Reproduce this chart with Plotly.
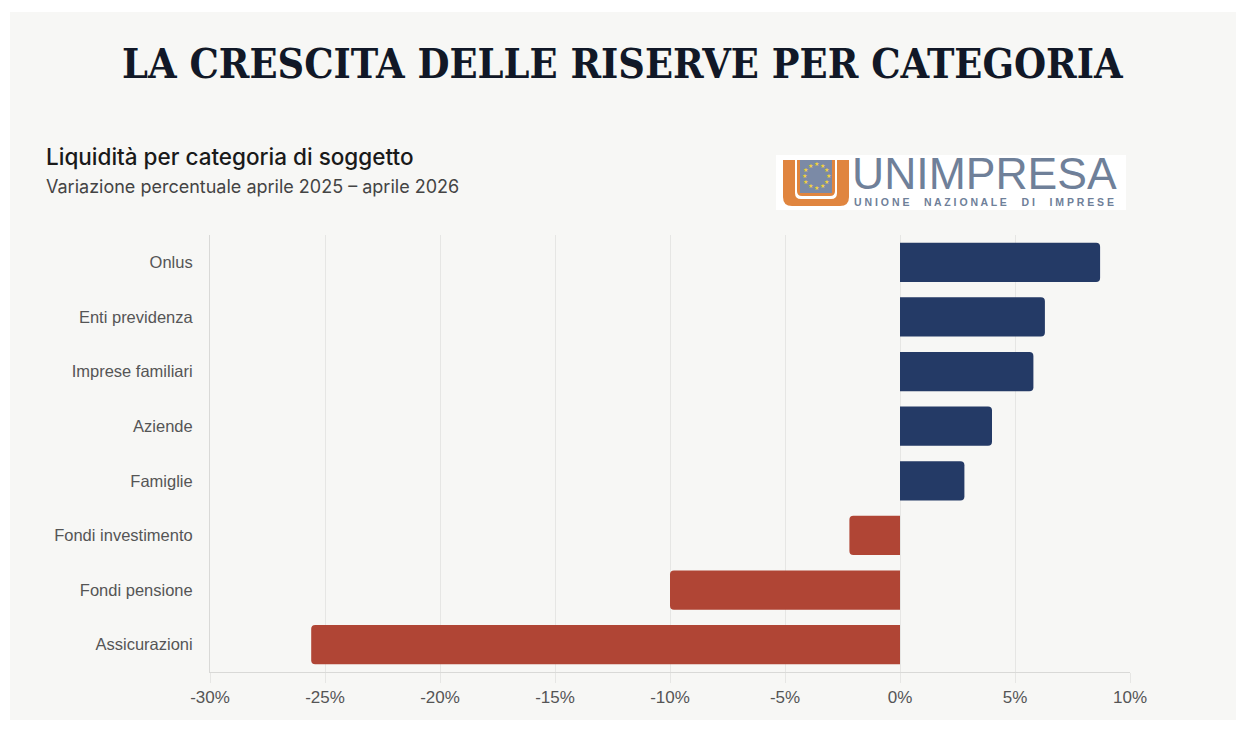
import math
import plotly.graph_objects as go

# dati (variazione % aprile 2025 - aprile 2026)
categorie = ["Onlus", "Enti previdenza", "Imprese familiari", "Aziende", "Famiglie",
             "Fondi investimento", "Fondi pensione", "Assicurazioni"]
variazione = [8.7, 6.3, 5.8, 4.0, 2.8, -2.2, -10.0, -25.6]
tick_vals = [-30, -25, -20, -15, -10, -5, 0, 5, 10]
tick_text = ["-30%", "-25%", "-20%", "-15%", "-10%", "-5%", "0%", "5%", "10%"]

BLU = "#243a66"
ROSSO = "#b04535"
FONDO = "#f7f7f5"

W, H = 1258, 746
OFF = 8                              # margine della pagina
L, R, T, B = 210, 1130, 235, 672     # area del grafico (pixel di riferimento)


def px(x):
    return (x - L) / (R - L)


def py(y):
    return (B - y) / (B - T)


colori = [BLU if v >= 0 else ROSSO for v in variazione]

fig = go.Figure(go.Bar(
    x=variazione,
    y=categorie,
    orientation="h",
    marker=dict(color=colori, cornerradius=4, line=dict(width=0)),
    width=0.72,
    hoverinfo="x+y",
))

shapes = [
    # sfondo grigio chiaro
    dict(type="rect", xref="paper", yref="paper", layer="below",
         x0=px(10), x1=px(1236), y0=py(720), y1=py(12),
         fillcolor=FONDO, line=dict(width=0)),
    # riquadro logo
    dict(type="rect", xref="paper", yref="paper",
         x0=px(776), x1=px(1126), y0=py(210), y1=py(155),
         fillcolor="white", line=dict(width=0)),
]


def upath(x0, y0, x1, y1, r):
    # U con angoli arrotondati in basso
    return (f"M {px(x0)},{py(y0)} L {px(x0)},{py(y1 - r)} "
            f"Q {px(x0)},{py(y1)} {px(x0 + r)},{py(y1)} "
            f"L {px(x1 - r)},{py(y1)} Q {px(x1)},{py(y1)} {px(x1)},{py(y1 - r)} "
            f"L {px(x1)},{py(y0)} Z")


# logo: U arancione + quadrato con stelle
shapes.append(dict(type="path", xref="paper", yref="paper", path=upath(783, 160, 849, 206, 9),
                   fillcolor="#e0853f", line=dict(width=0)))
shapes.append(dict(type="path", xref="paper", yref="paper", path=upath(795, 160, 837, 199, 6),
                   fillcolor="white", line=dict(width=0)))
shapes.append(dict(type="path", xref="paper", yref="paper", path=upath(797, 160, 835, 196, 5),
                   fillcolor="#e0853f", line=dict(width=0)))
shapes.append(dict(type="rect", xref="paper", yref="paper",
                   x0=px(800), x1=px(832), y0=py(193), y1=py(160),
                   fillcolor="#7b8aa6", line=dict(width=0)))

annotations = [
    dict(text="<b>LA CRESCITA DELLE RISERVE PER CATEGORIA</b>", xref="paper", yref="paper",
         x=px(623), y=py(64), xanchor="center", yanchor="middle", showarrow=False,
         font=dict(family="DejaVu Serif Condensed, Liberation Serif, serif", size=41, color="#111827")),
    dict(text="Liquidità per categoria di soggetto", xref="paper", yref="paper",
         x=px(44), y=py(157), xanchor="left", yanchor="middle", showarrow=False,
         font=dict(family="Inter, Noto Sans, sans-serif", size=22.5, weight=500, color="#1a1a1a")),
    dict(text="Variazione percentuale aprile 2025 – aprile 2026", xref="paper", yref="paper",
         x=px(44), y=py(186), xanchor="left", yanchor="middle", showarrow=False,
         font=dict(family="Inter, Noto Sans, sans-serif", size=18, color="#444444")),
    dict(text="UNIMPRESA", xref="paper", yref="paper",
         x=px(850), y=py(173), xanchor="left", yanchor="middle", showarrow=False,
         font=dict(family="Liberation Sans, Arial, sans-serif", size=44.5, color="#6f8099")),
    dict(text="<b>" + " ".join("UNIONE NAZIONALE DI IMPRESE").replace("   ", "     ") + "</b>",
         xref="paper", yref="paper",
         x=px(852), y=py(202), xanchor="left", yanchor="middle", showarrow=False,
         font=dict(family="Liberation Sans, Arial, sans-serif", size=10.5, color="#6f8099")),
]

# stelle del logo
for k in range(12):
    a = 2 * math.pi * k / 12
    annotations.append(dict(text="★", xref="paper", yref="paper",
                            x=px(816 + 12 * math.cos(a)), y=py(176 + 12 * math.sin(a)),
                            xanchor="center", yanchor="middle", showarrow=False,
                            font=dict(size=6, color="#f2d23c")))

fig.update_layout(
    width=W, height=H,
    margin=dict(l=L - OFF, r=W - (R - OFF), t=T - OFF, b=H - (B - OFF)),
    paper_bgcolor="white",
    plot_bgcolor=FONDO,
    showlegend=False,
    shapes=shapes,
    annotations=annotations,
    font=dict(family="Liberation Sans, Arial, sans-serif", size=16, color="#555555"),
    xaxis=dict(range=[-30, 10], tickvals=tick_vals, ticktext=tick_text,
               showgrid=True, gridcolor="#e6e6e4", gridwidth=1,
               zeroline=False, showline=True, linecolor="#d9d9d7", linewidth=1,
               ticks="outside", ticklen=10, tickcolor="#e6e6e4",
               tickfont=dict(size=17, color="#555555"), fixedrange=True),
    yaxis=dict(autorange="reversed", showgrid=False, zeroline=False,
               showline=True, linecolor="#d9d9d7", linewidth=1,
               ticks="outside", ticklen=13, tickcolor="rgba(0,0,0,0)",
               tickfont=dict(size=16.5, color="#555555"), fixedrange=True),
    bargap=0.28,
)

fig.write_html("out.html", config={"displayModeBar": False})
